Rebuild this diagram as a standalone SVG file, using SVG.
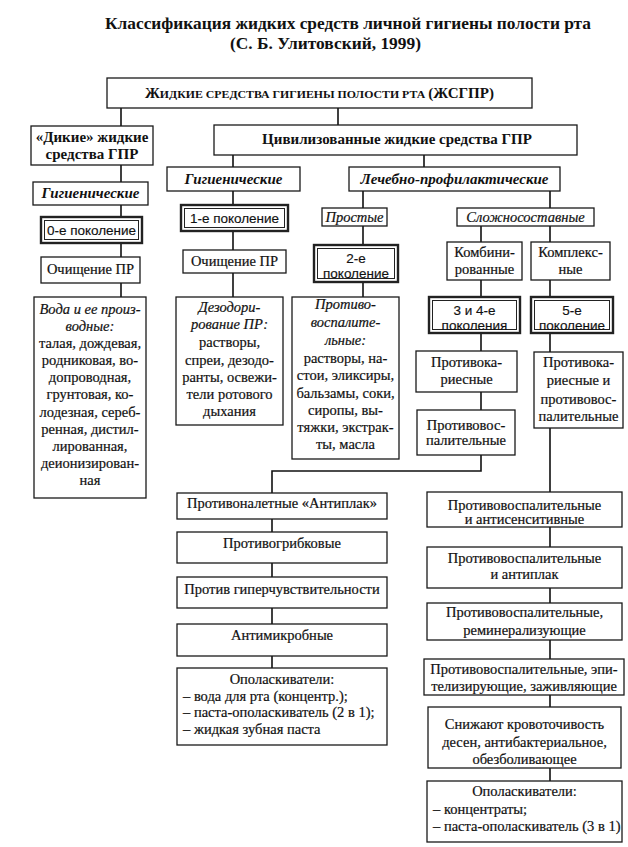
<svg xmlns="http://www.w3.org/2000/svg" width="628" height="847" viewBox="0 0 628 847">
<style>
.bx{fill:#fff;stroke:#1a1a1a;stroke-width:1.3}
.ob{fill:#fff;stroke:#222;stroke-width:2.4}
.ib{fill:none;stroke:#222;stroke-width:1}
.ln{fill:none;stroke:#111;stroke-width:1.6}
text{font-family:"Liberation Serif","Times New Roman",serif;font-size:14.5px;fill:#111;stroke:#111;stroke-width:0.2;text-anchor:middle}
.b{font-weight:bold;stroke-width:0}
.bi{font-weight:bold;font-style:italic;stroke-width:0}
.i{font-style:italic}
.s{font-family:"Liberation Sans",Arial,sans-serif;font-size:13.5px;stroke-width:0.15}
.l{text-anchor:start}
</style>
<rect width="628" height="847" fill="#fff"/>
<g id="title">
<text class="b" x="348" y="29" style="font-size:17.5px" textLength="486" lengthAdjust="spacingAndGlyphs">Классификация жидких средств личной гигиены полости рта</text>
<text class="b" x="325.5" y="49" style="font-size:17.5px" textLength="191" lengthAdjust="spacingAndGlyphs">(С. Б. Улитовский, 1999)</text>
</g>
<g id="connectors">
<path class="ln" d="M121 108V126M338 108V125M121 165V182M121 205V217M121 243V257M121 283V297"/>
<path class="ln" d="M233 155V167M233 191V205M233 231V250M233 273V297"/>
<path class="ln" d="M424 155V167M363 191V208M363 226V245M363 282V297"/>
<path class="ln" d="M550 191V208M550 226V242M550 280V297M550 333V352M550 428V492M550 527V547M550 588V603M550 640V659M550 695V707M550 768V781"/>
<path class="ln" d="M481 226V242M481 280V297M481 333V351M481 392V410M481 455V471H272V493"/>
<path class="ln" d="M272 519V532M272 563V577M272 608V624M272 656V668"/>
</g>
<g id="n-root">
<rect class="bx" x="107" y="78" width="425" height="30"/>
<text class="b" x="319.5" y="97.5" textLength="349" lengthAdjust="spacingAndGlyphs"><tspan style="font-size:14px">Ж</tspan><tspan style="font-size:11px">ИДКИЕ СРЕДСТВА ГИГИЕНЫ ПОЛОСТИ РТА </tspan><tspan style="font-size:14px">(ЖСГПР)</tspan></text>
</g>
<g id="n-wild">
<rect class="bx" x="31" y="126" width="122" height="39"/>
<text class="b" style="font-size:15px"><tspan x="92" y="142">«Дикие» жидкие</tspan><tspan x="92" y="158.5">средства ГПР</tspan></text>
</g>
<g id="n-civil">
<rect class="bx" x="214" y="125" width="363" height="30"/>
<text class="b" x="397" y="143.5" style="font-size:15px">Цивилизованные жидкие средства ГПР</text>
</g>
<g id="n-hyg-left">
<rect class="bx" x="33" y="182" width="115" height="23"/>
<text class="bi" x="90.5" y="198" style="font-size:15px">Гигиенические</text>
</g>
<g id="n-hyg-mid">
<rect class="bx" x="167" y="167" width="133" height="24"/>
<text class="bi" x="233.5" y="183.5" style="font-size:15px">Гигиенические</text>
</g>
<g id="n-treat">
<rect class="bx" x="349" y="167" width="211" height="24"/>
<text class="bi" x="454.5" y="183.5" style="font-size:15px">Лечебно-профилактические</text>
</g>
<g id="n-gen0">
<rect class="ob" x="41" y="217" width="101" height="26"/>
<rect class="ib" x="44.5" y="220.5" width="94" height="19"/>
<text class="s" x="91.5" y="235">0-е поколение</text>
</g>
<g id="n-clean-left">
<rect class="bx" x="41" y="257" width="99" height="26"/>
<text x="90.5" y="274">Очищение ПР</text>
</g>
<g id="n-water">
<rect class="bx" x="34" y="297" width="112" height="201"/>
<text><tspan class="i" x="90" y="313.5">Вода и ее произ-</tspan><tspan class="i" x="90" y="330.5">водные:</tspan><tspan x="90" y="347.5">талая, дождевая,</tspan><tspan x="90" y="365">родниковая, во-</tspan><tspan x="90" y="382">допроводная,</tspan><tspan x="90" y="399">грунтовая, ко-</tspan><tspan x="90" y="416.5">лодезная, сереб-</tspan><tspan x="90" y="433.5">ренная, дистил-</tspan><tspan x="90" y="450.5">лированная,</tspan><tspan x="90" y="468">деионизирован-</tspan><tspan x="90" y="485">ная</tspan></text>
</g>
<g id="n-gen1">
<rect class="ob" x="181" y="205" width="107" height="26"/>
<rect class="ib" x="184.5" y="208.5" width="100" height="19"/>
<text class="s" x="234.5" y="223">1-е поколение</text>
</g>
<g id="n-clean-mid">
<rect class="bx" x="183" y="250" width="103" height="23"/>
<text x="234.5" y="265.5">Очищение ПР</text>
</g>
<g id="n-deodor">
<rect class="bx" x="176" y="297" width="107" height="128"/>
<text><tspan class="i" x="229.5" y="311.5">Дезодори-</tspan><tspan class="i" x="229.5" y="329">рование ПР:</tspan><tspan x="229.5" y="347">растворы,</tspan><tspan x="229.5" y="365">спреи, дезодо-</tspan><tspan x="229.5" y="381.5">ранты, освежи-</tspan><tspan x="229.5" y="398.5">тели ротового</tspan><tspan x="229.5" y="415.5">дыхания</tspan></text>
</g>
<g id="n-simple">
<rect class="bx" x="322" y="208" width="65" height="18"/>
<text class="i" x="354.5" y="221.5">Простые</text>
</g>
<g id="n-complex">
<rect class="bx" x="457" y="208" width="137" height="18"/>
<text class="i" x="525.5" y="221.5">Сложносоставные</text>
</g>
<g id="n-gen2">
<rect class="ob" x="314" y="245" width="84" height="37"/>
<rect class="ib" x="317.5" y="248.5" width="77" height="30"/>
<text class="s"><tspan x="356" y="263">2-е</tspan><tspan x="356" y="278">поколение</tspan></text>
</g>
<g id="n-antiinfl-simple">
<rect class="bx" x="292" y="297" width="107" height="162"/>
<text><tspan class="i" x="345.5" y="308.5">Противо-</tspan><tspan class="i" x="345.5" y="326.5">воспалите-</tspan><tspan class="i" x="345.5" y="345">льные:</tspan><tspan x="345.5" y="362.5">растворы, на-</tspan><tspan x="345.5" y="380">стои, эликсиры,</tspan><tspan x="345.5" y="398">бальзамы, соки,</tspan><tspan x="345.5" y="415">сиропы, вы-</tspan><tspan x="345.5" y="431.5">тяжки, экстрак-</tspan><tspan x="345.5" y="449">ты, масла</tspan></text>
</g>
<g id="n-combined">
<rect class="bx" x="447" y="242" width="75" height="38"/>
<text><tspan x="484.5" y="256.5">Комбини-</tspan><tspan x="484.5" y="273.5">рованные</tspan></text>
</g>
<g id="n-complexes">
<rect class="bx" x="531" y="242" width="79" height="38"/>
<text><tspan x="570.5" y="256.5">Комплекс-</tspan><tspan x="570.5" y="273.5">ные</tspan></text>
</g>
<g id="n-gen34">
<rect class="ob" x="429" y="297" width="91" height="36"/>
<rect class="ib" x="432.5" y="300.5" width="84" height="29"/>
<text class="s"><tspan x="474.5" y="314.5">3 и 4-е</tspan><tspan x="474.5" y="330">поколения</tspan></text>
</g>
<g id="n-gen5">
<rect class="ob" x="531" y="297" width="82" height="36"/>
<rect class="ib" x="534.5" y="300.5" width="75" height="29"/>
<text class="s"><tspan x="572" y="314.5">5-е</tspan><tspan x="572" y="330">поколение</tspan></text>
</g>
<g id="n-anticaries">
<rect class="bx" x="416" y="351" width="101" height="41"/>
<text><tspan x="466.5" y="366.5">Противока-</tspan><tspan x="466.5" y="383.5">риесные</tspan></text>
</g>
<g id="n-antiinfl">
<rect class="bx" x="417" y="410" width="98" height="45"/>
<text><tspan x="466" y="429.5">Противовос-</tspan><tspan x="466" y="445">палительные</tspan></text>
</g>
<g id="n-anticaries-infl">
<rect class="bx" x="534" y="352" width="89" height="76"/>
<text><tspan x="578.5" y="366.5">Противока-</tspan><tspan x="578.5" y="385">риесные и</tspan><tspan x="578.5" y="404">противовос-</tspan><tspan x="578.5" y="421">палительные</tspan></text>
</g>
<g id="n-antiplaque">
<rect class="bx" x="177" y="493" width="210" height="26"/>
<text x="282" y="508">Противоналетные «Антиплак»</text>
</g>
<g id="n-antifungal">
<rect class="bx" x="177" y="532" width="210" height="31"/>
<text x="282" y="548">Противогрибковые</text>
</g>
<g id="n-hypersens">
<rect class="bx" x="177" y="577" width="210" height="31"/>
<text x="282" y="593.5">Против гиперчувствительности</text>
</g>
<g id="n-antimicrob">
<rect class="bx" x="177" y="624" width="210" height="32"/>
<text x="282" y="639.5">Антимикробные</text>
</g>
<g id="n-rinse-left">
<rect class="bx" x="177" y="668" width="210" height="77"/>
<text x="282" y="683.5">Ополаскиватели:</text>
<text class="l"><tspan x="183" y="700.5">–  вода для рта (концентр.);</tspan><tspan x="183" y="717">–  паста-ополаскиватель (2 в 1);</tspan><tspan x="183" y="733.5">–  жидкая зубная паста</tspan></text>
</g>
<g id="n-r1">
<rect class="bx" x="427" y="492" width="195" height="35"/>
<text><tspan x="524.5" y="509.5">Противовоспалительные</tspan><tspan x="524.5" y="524">и антисенситивные</tspan></text>
</g>
<g id="n-r2">
<rect class="bx" x="427" y="547" width="195" height="41"/>
<text><tspan x="524.5" y="562.5">Противовоспалительные</tspan><tspan x="524.5" y="578.5">и антиплак</tspan></text>
</g>
<g id="n-r3">
<rect class="bx" x="427" y="603" width="195" height="37"/>
<text><tspan x="524.5" y="616.5">Противовоспалительные,</tspan><tspan x="524.5" y="634.5">реминерализующие</tspan></text>
</g>
<g id="n-r4">
<rect class="bx" x="424" y="659" width="200" height="36"/>
<text><tspan x="524" y="673.5">Противовоспалительные, эпи-</tspan><tspan x="524" y="691">телизирующие, заживляющие</tspan></text>
</g>
<g id="n-r5">
<rect class="bx" x="428" y="707" width="193" height="61"/>
<text><tspan x="524.5" y="728.5">Снижают кровоточивость</tspan><tspan x="524.5" y="746.5">десен, антибактериальное,</tspan><tspan x="524.5" y="763.5">обезболивающее</tspan></text>
</g>
<g id="n-r6">
<rect class="bx" x="427" y="781" width="195" height="61"/>
<text x="524.5" y="795.5">Ополаскиватели:</text>
<text class="l"><tspan x="433" y="813.5">–  концентраты;</tspan><tspan x="433" y="830.5">–  паста-ополаскиватель (3 в 1)</tspan></text>
</g>
</svg>
